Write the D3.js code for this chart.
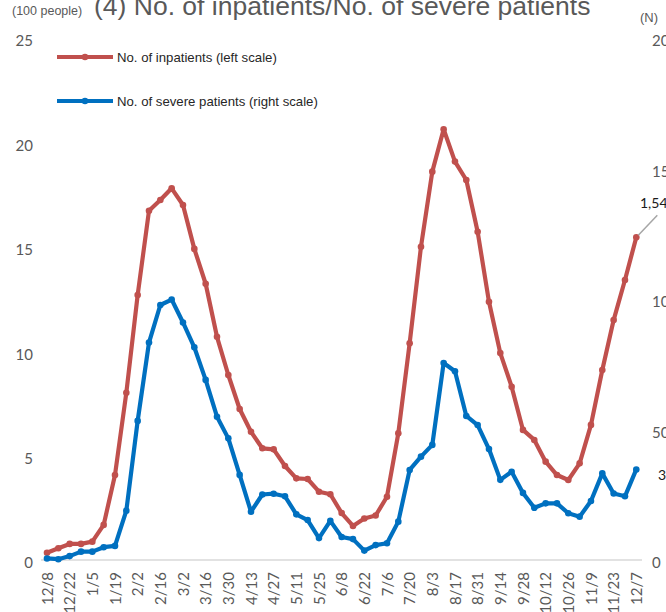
<!DOCTYPE html>
<html>
<head>
<meta charset="utf-8">
<script src="https://cdn.jsdelivr.net/npm/d3@7"></script>
<style>
  html, body { margin: 0; padding: 0; background: #fff; }
  svg { display: block; }
</style>
</head>
<body>
<svg id="chart" width="666" height="612"></svg>
<script>
// Weekly dates (Wednesday of each week)
const weeks = [
  "12/8","12/15","12/22","12/29","1/5","1/12","1/19","1/26","2/2","2/9","2/16","2/23",
  "3/2","3/9","3/16","3/23","3/30","4/6","4/13","4/20","4/27","5/4","5/11","5/18",
  "5/25","6/1","6/8","6/15","6/22","6/29","7/6","7/13","7/20","7/27","8/3","8/10",
  "8/17","8/24","8/31","9/7","9/14","9/21","9/28","10/5","10/12","10/19","10/26",
  "11/2","11/9","11/16","11/23","11/30","12/7"
];

// Inpatients, in units of 100 people (left scale)
const inpatients = [
  0.35, 0.56, 0.77, 0.77, 0.88, 1.68, 4.07, 8.01, 12.69, 16.73, 17.24, 17.8,
  17.0, 14.9, 13.23, 10.69, 8.86, 7.23, 6.14, 5.35, 5.3, 4.5, 3.91, 3.88,
  3.27, 3.15, 2.25, 1.63, 1.99, 2.13, 3.03, 6.07, 10.38, 15.0, 18.6, 20.63,
  19.08, 18.2, 15.72, 12.37, 9.91, 8.3, 6.23, 5.75, 4.71, 4.07, 3.83,
  4.63, 6.47, 9.1, 11.49, 13.41, 15.46
];

// Severe patients, number of people (right scale)
const severe = [
  6, 3, 15, 32, 32, 49, 54, 189, 533, 833, 977, 998,
  910, 815, 690, 549, 466, 326, 185, 251, 254, 244, 175, 153,
  84, 150, 88, 80, 36, 57, 64, 147, 345, 396, 441, 755,
  723, 552, 517, 425, 307, 338, 257, 200, 217, 217, 179,
  166, 226, 332, 255, 244, 347
];

const leftTicks = [0, 5, 10, 15, 20, 25];
const rightTicks = [0, 500, 1000, 1500, 2000];

const RED = "#C0504D";
const BLUE = "#0070C0";
const GRAY = "#595959";

const svg = d3.select("#chart");

const x = d3.scalePoint().domain(weeks).range([47, 636.3]);
const yL = d3.scaleLinear().domain([0, 25]).range([560, 38]);
const yR = d3.scaleLinear().domain([0, 2000]).range([560, 38]);

// Titles and units
svg.append("text").attr("x", 12).attr("y", 15)
  .attr("font-family", "Liberation Sans, Arial, sans-serif").attr("font-size", 12.5)
  .attr("fill", GRAY).text("(100 people)");
svg.append("text").attr("x", 94).attr("y", 15)
  .attr("font-family", "Liberation Sans, Arial, sans-serif").attr("font-size", 26.5)
  .attr("fill", GRAY).text("(4) No. of inpatients/No. of severe patients");
svg.append("text").attr("x", 640).attr("y", 22)
  .attr("font-family", "Liberation Sans, Arial, sans-serif").attr("font-size", 13)
  .attr("fill", GRAY).text("(N)");

// Baseline
svg.append("line")
  .attr("x1", 41).attr("x2", 642)
  .attr("y1", yL(0)).attr("y2", yL(0))
  .attr("stroke", "#D9D9D9").attr("stroke-width", 1.5);

// Left axis labels
const axisFont = "Lato, Carlito, sans-serif";
const leftAxis = d3.axisLeft(yL).tickValues(leftTicks).tickSize(0).tickPadding(0)
  .tickFormat(d3.format("d"));
svg.append("g").attr("transform", "translate(33,3)").call(leftAxis)
  .call(g => g.select(".domain").remove())
  .call(g => g.selectAll("text").attr("font-family", axisFont).attr("font-size", 15)
    .attr("fill", GRAY));

// Right axis labels
const rightAxis = d3.axisRight(yR).tickValues(rightTicks).tickSize(0).tickPadding(0)
  .tickFormat(d3.format("d"));
svg.append("g").attr("transform", "translate(652,3)").call(rightAxis)
  .call(g => g.select(".domain").remove())
  .call(g => g.selectAll("text").attr("font-family", axisFont).attr("font-size", 15)
    .attr("fill", GRAY));

// Category labels, every second week, rotated
const xAxis = d3.axisBottom(x)
  .tickValues(weeks.filter((d, i) => i % 2 === 0))
  .tickSize(0).tickPadding(0);
svg.append("g").attr("transform", `translate(0,${yL(0)})`).call(xAxis)
  .call(g => g.select(".domain").remove())
  .call(g => g.selectAll("text")
    .attr("font-family", axisFont).attr("font-size", 15).attr("fill", GRAY)
    .attr("text-anchor", "end")
    .attr("transform", "rotate(-90)")
    .attr("x", -12).attr("y", 0).attr("dy", "0.35em"));

// Series lines and markers
function drawSeries(values, yScale, color) {
  const line = d3.line().x((d, i) => x(weeks[i])).y(d => yScale(d));
  svg.append("path").datum(values)
    .attr("d", line).attr("fill", "none")
    .attr("stroke", color).attr("stroke-width", 4.2)
    .attr("stroke-linejoin", "round").attr("stroke-linecap", "round");
  svg.append("g").selectAll("circle").data(values).join("circle")
    .attr("cx", (d, i) => x(weeks[i])).attr("cy", d => yScale(d))
    .attr("r", 3.3).attr("fill", color);
}
drawSeries(inpatients, yL, RED);
drawSeries(severe, yR, BLUE);

// Legend
const legend = [
  { label: "No. of inpatients (left scale)", color: RED, y: 57 },
  { label: "No. of severe patients (right scale)", color: BLUE, y: 101 }
];
const lg = svg.append("g").selectAll("g").data(legend).join("g");
lg.append("line").attr("x1", 57).attr("x2", 113)
  .attr("y1", d => d.y).attr("y2", d => d.y)
  .attr("stroke", d => d.color).attr("stroke-width", 4.2);
lg.append("circle").attr("cx", 85).attr("cy", d => d.y).attr("r", 3.3)
  .attr("fill", d => d.color);
lg.append("text").attr("x", 117).attr("y", d => d.y).attr("dy", "0.35em")
  .attr("font-family", "Liberation Sans, Arial, sans-serif").attr("font-size", 13.2)
  .attr("fill", "#262626").text(d => d.label);

// End-point value labels
const lastI = weeks.length - 1;
const lastRed = inpatients[lastI];
const lastBlue = severe[lastI];
const fmt = d3.format(",");
svg.append("line")
  .attr("x1", x(weeks[lastI]) + 2).attr("y1", yL(lastRed) - 2)
  .attr("x2", x(weeks[lastI]) + 21).attr("y2", yL(lastRed) - 22)
  .attr("stroke", "#A6A6A6").attr("stroke-width", 1.5);
svg.append("text").attr("x", 640).attr("y", yL(lastRed) - 34).attr("dy", "0.35em")
  .attr("font-family", axisFont).attr("font-size", 14).attr("fill", "#1a1a1a")
  .text(fmt(Math.round(lastRed * 100)));
svg.append("text").attr("x", 658).attr("y", yR(lastBlue) + 6).attr("dy", "0.35em")
  .attr("font-family", axisFont).attr("font-size", 14).attr("fill", "#1a1a1a")
  .text(fmt(lastBlue));
</script>
</body>
</html>
